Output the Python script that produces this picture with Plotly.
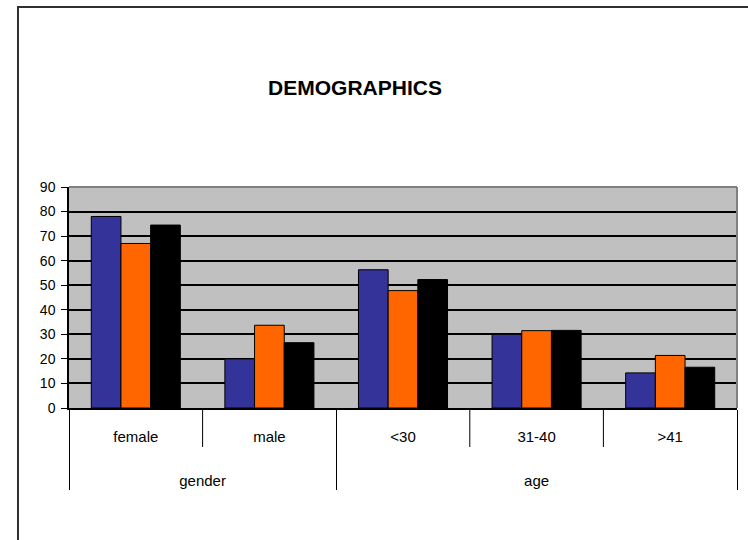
import plotly.graph_objects as go

# Category labels (two-level axis)
groups = ["gender", "gender", "age", "age", "age"]
categories = ["female", "male", "<30", "31-40", ">41"]

# Series values
series_1 = [78, 20, 56.3, 30, 14.3]
series_2 = [67, 33.7, 47.8, 31.5, 21.4]
series_3 = [74.5, 26.6, 52.3, 31.6, 16.6]

series_names = ["Series1", "Series2", "Series3"]
series_colors = ["#333399", "#FF6600", "#000000"]

y_ticks = list(range(0, 100, 10))

# Inner labels carry blank trailing lines so the outer level sits lower
inner_labels = [c + "<br>\u00a0<br>\u00a0" for c in categories]

fig = go.Figure()
for name, vals, color in zip(series_names, [series_1, series_2, series_3], series_colors):
    fig.add_trace(go.Bar(
        x=[groups, inner_labels],
        y=vals,
        name=name,
        marker=dict(color=color, line=dict(color="#000000", width=1)),
    ))

W, H = 748, 540
L, R, T, B = 69, 11, 187, 132

fig.update_layout(
    width=W, height=H,
    margin=dict(l=L, r=R, t=T, b=B, pad=0),
    paper_bgcolor="#FFFFFF",
    plot_bgcolor="#C0C0C0",
    barmode="group",
    bargap=1 / 3,
    bargroupgap=0,
    showlegend=False,
    font=dict(family="Liberation Sans, Arial, sans-serif", size=14, color="#000000"),
    title=dict(
        text="<b>DEMOGRAPHICS</b>",
        x=355 / W, xref="container", xanchor="center",
        y=1 - 88 / H, yref="container", yanchor="middle",
        font=dict(family="Liberation Sans, Arial, sans-serif", size=21, color="#000000"),
    ),
)

fig.update_yaxes(
    range=[0, 90],
    tickvals=y_ticks,
    showgrid=True, gridcolor="#000000", gridwidth=1.5,
    zeroline=False,
    showline=True, linecolor="#000000", linewidth=1.5,
    ticks="outside", ticklen=6, tickcolor="#000000", tickwidth=1,
    ticklabelstandoff=3,
    tickfont=dict(size=14),
    fixedrange=True,
)

fig.update_xaxes(
    type="multicategory",
    showline=True, linecolor="#000000", linewidth=1.5,
    showgrid=False,
    ticks="",
    ticklabelstandoff=14,
    showdividers=True, dividercolor="#000000", dividerwidth=1,
    tickfont=dict(size=15),
)

plot_w = W - L - R
plot_h = H - T - B

# Inner dividers between subcategories within the same group
for xv in [0.5, 2.5, 3.5]:
    fig.add_shape(type="line", xref="x", yref="paper",
                  x0=xv, x1=xv, y0=0, y1=-39 / plot_h,
                  line=dict(color="#000000", width=1))

# Grey frame on the top and right edges of the plot area
fig.add_shape(type="line", xref="paper", yref="paper", x0=0, x1=1, y0=1, y1=1,
              line=dict(color="#808080", width=2))
fig.add_shape(type="line", xref="paper", yref="paper", x0=1, x1=1, y0=0, y1=1,
              line=dict(color="#808080", width=2))

# Outer chart border
fig.add_shape(type="rect", xref="paper", yref="paper",
              x0=(18 - L) / plot_w, x1=(760 - L) / plot_w,
              y0=(H - B - 560) / plot_h, y1=(H - B - 7) / plot_h,
              line=dict(color="#303030", width=2), fillcolor="rgba(0,0,0,0)")

fig.write_html("out.html")
